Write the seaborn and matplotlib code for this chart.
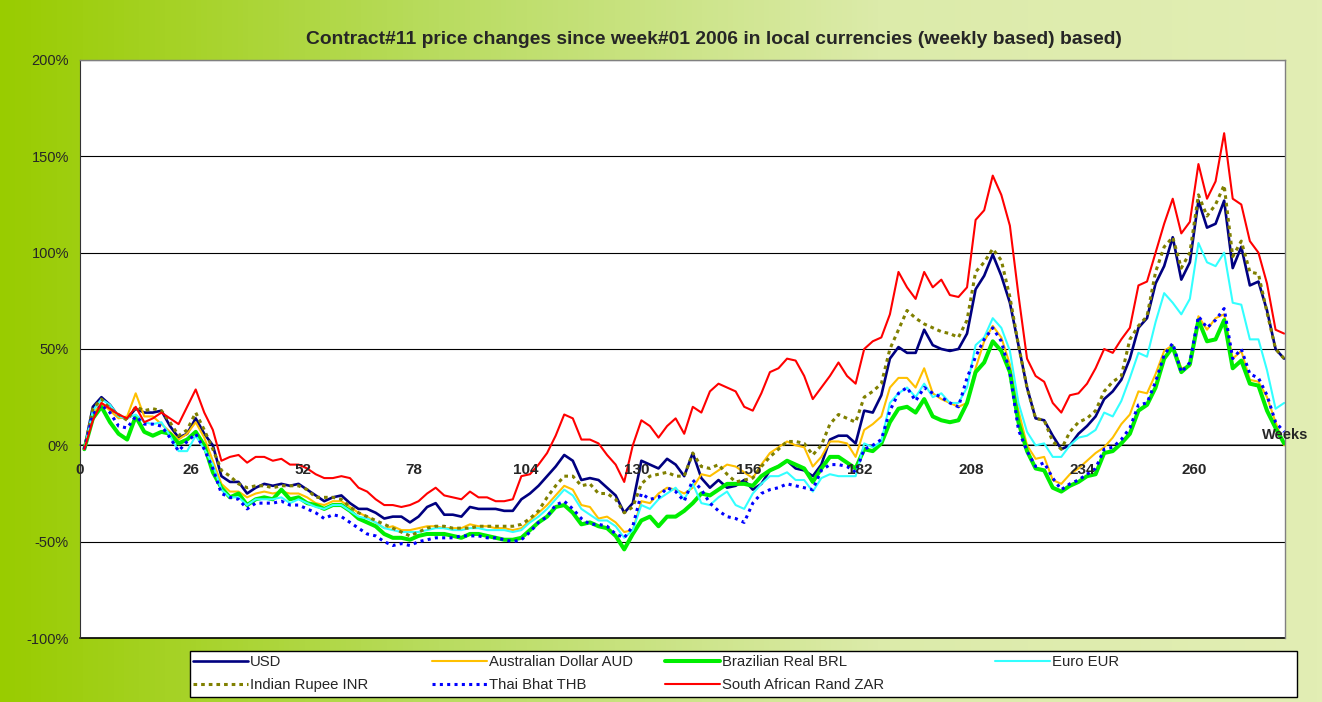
import numpy as np
import pandas as pd
import seaborn as sns
import matplotlib
matplotlib.use('Agg')
import matplotlib.pyplot as plt
import matplotlib.transforms as mtransforms
from matplotlib.colors import LinearSegmentedColormap
from matplotlib.patches import Rectangle

# weeks since week#01 2006 (every second week)
weeks = list(range(1, 282, 2))

# price change in % per currency
usd = [-2, 20, 25, 21, 15, 14, 19, 17, 17, 18,
       10, 4, 6, 14, 6, 0, -16, -19, -19, -25,
       -22, -20, -21, -20, -21, -20, -23, -26, -29, -27,
       -26, -30, -33, -33, -35, -38, -37, -37, -40, -37,
       -32, -30, -36, -36, -37, -32, -33, -33, -33, -34,
       -34, -28, -25, -21, -16, -11, -5, -8, -18, -17,
       -18, -22, -26, -35, -30, -8, -10, -12, -7, -10,
       -16, -4, -17, -22, -18, -22, -21, -18, -23, -20,
       -13, -11, -8, -12, -13, -16, -10, 3, 5, 5,
       1, 18, 17, 26, 45, 51, 48, 48, 60, 52,
       50, 49, 50, 58, 81, 88, 99, 88, 74, 52,
       30, 14, 13, 5, -2, 0, 6, 10, 15, 24,
       28, 34, 45, 61, 66, 84, 93, 108, 86, 95,
       127, 113, 115, 127, 92, 103, 83, 85, 70, 50,
       45]
aud = [-2, 16, 22, 18, 14, 15, 27, 15, 15, 11,
       7, 3, 6, 12, 4, -8, -20, -24, -24, -27,
       -25, -24, -25, -24, -25, -25, -27, -30, -31, -29,
       -29, -32, -35, -37, -40, -43, -42, -44, -44, -43,
       -42, -42, -43, -43, -43, -41, -42, -42, -43, -43,
       -44, -43, -39, -35, -31, -26, -21, -23, -31, -32,
       -38, -37, -40, -45, -44, -29, -30, -25, -22, -23,
       -25, -22, -15, -16, -13, -10, -11, -14, -17, -10,
       -4, -1, 2, 0, -1, -11, -6, 2, 2, 1,
       -6, 8, 11, 15, 30, 35, 35, 30, 40, 27,
       24, 22, 20, 22, 40, 54, 62, 56, 42, 18,
       0, -7, -6, -18, -20, -15, -12, -8, -4, -1,
       4, 11, 16, 28, 27, 37, 49, 52, 40, 41,
       67, 60, 66, 68, 45, 49, 34, 33, 25, 12,
       0]
brl = [-2, 14, 20, 12, 6, 3, 15, 7, 5, 7,
       6, 1, 3, 7, 0, -14, -22, -27, -25, -31,
       -28, -27, -28, -23, -28, -27, -30, -31, -33, -31,
       -31, -34, -38, -40, -42, -46, -48, -48, -49, -47,
       -46, -46, -46, -47, -48, -46, -46, -47, -48, -49,
       -49, -48, -44, -40, -37, -32, -31, -35, -41, -40,
       -42, -43, -47, -54, -46, -39, -37, -42, -37, -37,
       -34, -30, -25, -26, -23, -20, -20, -20, -21, -16,
       -13, -11, -8, -10, -12, -19, -12, -6, -6, -9,
       -12, -2, -3, 1, 12, 19, 20, 17, 24, 15,
       13, 12, 13, 22, 38, 43, 54, 49, 38, 12,
       -3, -12, -13, -22, -24, -21, -19, -16, -15, -4,
       -3, 1, 6, 18, 21, 30, 45, 51, 38, 42,
       65, 54, 55, 65, 40, 44, 32, 31, 18, 9,
       1]
eur = [-2, 18, 24, 21, 15, 14, 16, 12, 11, 12,
       5, -3, -3, 5, -2, -10, -23, -27, -27, -31,
       -28, -28, -28, -27, -30, -28, -30, -32, -33, -31,
       -31, -34, -37, -38, -40, -43, -44, -45, -45, -45,
       -44, -43, -43, -44, -44, -43, -43, -44, -44, -44,
       -45, -44, -40, -37, -33, -28, -23, -26, -33, -36,
       -39, -39, -42, -48, -44, -31, -33, -28, -25, -22,
       -28, -20, -30, -31, -27, -24, -31, -33, -25, -20,
       -16, -16, -14, -18, -18, -24, -17, -15, -16, -16,
       -16, 1, -1, 2, 22, 27, 30, 25, 32, 25,
       27, 22, 22, 30, 52, 56, 66, 61, 49, 22,
       7, 0, 1, -6, -6, 0, 4, 5, 8, 17,
       15, 23, 35, 48, 46, 64, 79, 74, 68, 76,
       105, 95, 93, 100, 74, 73, 55, 55, 39, 19,
       22]
inr = [-2, 19, 24, 19, 16, 13, 20, 18, 19, 18,
       12, 5, 8, 17, 8, -2, -13, -16, -20, -22,
       -21, -21, -22, -21, -21, -21, -23, -27, -27, -27,
       -28, -32, -35, -37, -39, -41, -43, -45, -47, -45,
       -43, -42, -42, -43, -43, -43, -42, -42, -42, -42,
       -42, -41, -38, -34, -27, -21, -16, -16, -21, -20,
       -25, -25, -28, -35, -32, -20, -16, -15, -14, -16,
       -16, -4, -11, -12, -10, -15, -19, -18, -17, -11,
       -6, -2, 2, 2, 1, -5, 0, 11, 16, 14,
       12, 25, 28, 32, 50, 60, 70, 66, 63, 61,
       59, 58, 56, 65, 90, 95, 102, 96, 77, 52,
       30, 14, 13, 2, -2, 7, 12, 14, 18, 28,
       33, 36, 55, 62, 67, 90, 103, 108, 92, 100,
       130, 119, 125, 135, 98, 106, 90, 89, 69, 50,
       45]
thb = [-2, 16, 21, 17, 10, 9, 15, 11, 11, 10,
       4, -3, 2, 6, -2, -12, -25, -27, -28, -33,
       -30, -30, -30, -29, -31, -31, -33, -35, -38, -36,
       -37, -40, -43, -46, -47, -50, -52, -51, -52, -50,
       -49, -48, -48, -48, -47, -47, -47, -48, -48, -49,
       -50, -49, -45, -40, -37, -31, -29, -33, -38, -41,
       -41, -42, -46, -48, -42, -25, -28, -27, -22, -24,
       -29, -18, -23, -30, -34, -37, -38, -40, -30, -25,
       -23, -22, -20, -21, -22, -23, -13, -10, -10, -11,
       -14, -2, 0, 3, 18, 27, 30, 23, 30, 27,
       25, 22, 20, 35, 46, 55, 61, 54, 38, 8,
       -3, -11, -9, -17, -23, -20, -18, -15, -12, -2,
       -1, 3, 9, 21, 22, 33, 47, 53, 38, 43,
       67, 61, 65, 71, 45, 50, 37, 35, 26, 12,
       7]
zar = [-2, 13, 22, 19, 16, 14, 20, 12, 14, 17,
       14, 11, 20, 29, 17, 8, -8, -6, -5, -9,
       -6, -6, -8, -7, -10, -10, -12, -15, -17, -17,
       -16, -17, -22, -24, -28, -31, -31, -32, -31, -29,
       -25, -22, -26, -27, -28, -24, -27, -27, -29, -29,
       -28, -16, -15, -10, -4, 5, 16, 14, 3, 3,
       1, -5, -10, -19, 0, 13, 10, 4, 10, 14,
       6, 20, 17, 28, 32, 30, 28, 20, 18, 27,
       38, 40, 45, 44, 36, 24, 30, 36, 43, 36,
       32, 50, 54, 56, 68, 90, 82, 76, 90, 82,
       86, 78, 77, 82, 117, 122, 140, 130, 114, 78,
       45, 36, 33, 22, 17, 26, 27, 32, 40, 50,
       48, 55, 61, 83, 85, 100, 115, 128, 110, 116,
       146, 128, 137, 162, 128, 125, 106, 100, 84, 60,
       58]

labels = ['USD', 'Australian Dollar AUD', 'Brazilian Real BRL', 'Euro EUR',
          'Indian Rupee INR', 'Thai Bhat THB', 'South African Rand ZAR']
series = [usd, aud, brl, eur, inr, thb, zar]
colors = ['#000080', '#FFC000', '#00EE00', '#33FFFF', '#808000', '#0000FF', '#FF0000']
widths = [1.9, 1.5, 2.9, 1.5, 2.2, 2.2, 1.5]
styles = ['-', '-', '-', '-', (0, (1.2, 1.3)), (0, (1.0, 1.4)), '-']

df = pd.DataFrame({
    'week': weeks * len(series),
    'change': sum(series, []),
    'currency': sum([[lab] * len(weeks) for lab in labels], []),
})

sns.set_style('white')
plt.rcParams['font.family'] = ['Liberation Sans', 'DejaVu Sans']

fig = plt.figure(figsize=(13.22, 7.02), dpi=100)

# green gradient background like the excel chart area
cmap = LinearSegmentedColormap.from_list('bg', ['#99cc00', '#b9dc60', '#dcebaa', '#e2eeb4'])
bg = fig.add_axes([0, 0, 1, 1], zorder=0)
bg.imshow(np.linspace(0, 1, 256).reshape(1, -1), cmap=cmap, aspect='auto', extent=[0, 1, 0, 1])
bg.set_xlim(0, 1)
bg.set_ylim(0, 1)
bg.axis('off')

ax = fig.add_axes([80 / 1322, 1 - 638 / 702, 1205 / 1322, 578 / 702], zorder=1)
ax.set_facecolor('white')

for lab, col, lw, ls in zip(labels, colors, widths, styles):
    sns.lineplot(data=df[df['currency'] == lab], x='week', y='change', ax=ax,
                 color=col, linewidth=lw, linestyle=ls, label=lab, legend=False)

# spine position first: moving it resets the ticks
ax.spines['bottom'].set_position(('data', 0))
ax.spines['bottom'].set_color('#808080')
ax.spines['bottom'].set_linewidth(1.3)
ax.spines['bottom'].set_zorder(0.5)
for s in ['top', 'right']:
    ax.spines[s].set_color('#808080')
    ax.spines[s].set_linewidth(1.0)
ax.spines['left'].set_color('#333333')
ax.spines['left'].set_linewidth(0.8)

ax.set_xlim(0, 281.2)
ax.set_ylim(-100, 200)
ax.set_yticks(range(-100, 201, 50))
ax.set_yticklabels([f'{v}%' for v in range(-100, 201, 50)], fontsize=10.5)
ax.set_xticks(range(0, 261, 26))
ax.set_xticklabels([str(v) for v in range(0, 261, 26)], fontsize=11, fontweight='bold')
ax.set_xlabel('')
ax.set_ylabel('')
ax.tick_params(axis='x', direction='out', length=5, width=1, color='#808080', pad=8)
ax.tick_params(axis='y', direction='out', length=5, width=0.8, color='#333333', pad=3)

ax.yaxis.grid(True, color='black', linewidth=0.8)
ax.xaxis.grid(False)
ax.set_axisbelow(True)
ax.xaxis.set_zorder(3)  # week numbers sit on top of the lines
ax.axhline(-100, color='black', linewidth=1.2, clip_on=False, zorder=0.6)

trans = mtransforms.blended_transform_factory(ax.transAxes, ax.transData)
ax.text(1.019, 1.5, 'Weeks', transform=trans, ha='right', va='bottom',
        fontsize=10.5, fontweight='bold', clip_on=False, zorder=5)

fig.text(714 / 1322, 1 - 40 / 702,
         'Contract#11 price changes since week#01 2006 in local currencies (weekly based) based)',
         ha='center', va='center', fontsize=13.9, fontweight='bold')

# legend box at the bottom, four columns placed like the original
fig.patches.append(Rectangle((190 / 1322, 1 - 697 / 702), 1107 / 1322, 46 / 702,
                             transform=fig.transFigure, facecolor='white',
                             edgecolor='black', linewidth=1, zorder=2))
handles = {l.get_label(): l for l in ax.get_lines()}
cols = [(['USD', 'Indian Rupee INR'], 193), (['Australian Dollar AUD', 'Thai Bhat THB'], 432),
        (['Brazilian Real BRL', 'South African Rand ZAR'], 665), (['Euro EUR'], 995)]
for names, x0 in cols:
    leg = fig.legend([handles[n] for n in names], names, loc='upper left',
                     bbox_to_anchor=(x0 / 1322, 1 - 655 / 702), frameon=False,
                     fontsize=10.7, handlelength=3.7, handletextpad=0.15,
                     borderpad=0, borderaxespad=0, labelspacing=0.6)
    leg.set_zorder(3)

fig.savefig('out.png', dpi=100)
